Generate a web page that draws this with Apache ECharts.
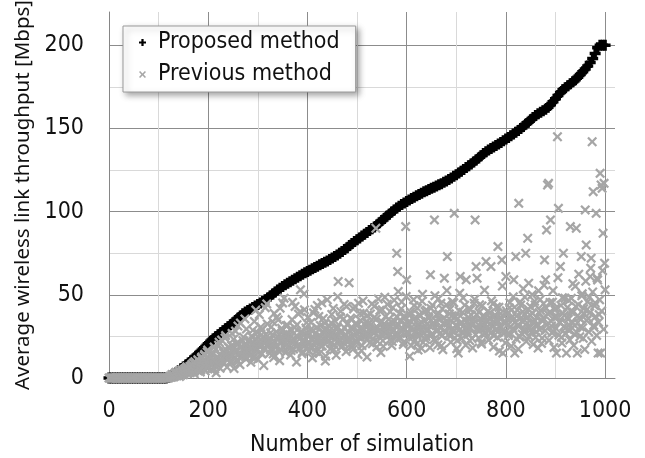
<!DOCTYPE html>
<html>
<head>
<meta charset="utf-8">
<script src="https://cdn.jsdelivr.net/npm/echarts@6/dist/echarts.min.js"></script>
<style>
  html, body { margin: 0; padding: 0; background: #fff; }
  #chart { width: 645px; height: 458px; }
</style>
</head>
<body>
<div id="chart"></div>
<script>
// simulation number = start + step * index
var proposedStart = 0, proposedStep = 5;
var proposedY = [
  0, 0, 0, 0, 0, 0, 0, 0, 0, 0, 0, 0, 0, 0, 0, 0, 0, 0, 0, 0, 0, 0, 0, 0,
  0.3, 1.2, 2.2, 3.3, 4.4, 5.5, 6.6, 7.8, 9, 10.3, 11.6, 13, 14.4, 15.9, 17.4, 19,
  20.6, 22.1, 23.5, 24.8, 26, 27.2, 28.4, 29.6, 30.8, 32, 33.2, 34.5, 35.9, 37.3, 38.6, 39.7,
  40.6, 41.5, 42.4, 43.3, 44.2, 45.1, 46, 47, 48.1, 49.3, 50.5, 51.7, 52.9, 54, 55, 56,
  57, 57.9, 58.8, 59.7, 60.6, 61.5, 62.4, 63.2, 64, 64.8, 65.6, 66.4, 67.2, 68, 68.8, 69.6,
  70.4, 71.2, 72.1, 73, 74, 75, 76.1, 77.2, 78.3, 79.6, 80.8, 82, 83.1, 84.2, 85.3, 86.4,
  87.5, 88.6, 89.7, 90.8, 92, 93.3, 94.6, 95.9, 97.2, 98.5, 99.8, 101, 102.2, 103.3, 104.3, 105.2,
  106.1, 107, 107.9, 108.7, 109.5, 110.3, 111.1, 111.9, 112.6, 113.3, 114, 114.7, 115.4, 116.1, 116.8, 117.6,
  118.4, 119.3, 120.2, 121.2, 122.2, 123.2, 124.3, 125.4, 126.5, 127.6, 128.7, 129.9, 131.1, 132.3, 133.6, 134.9,
  136, 137, 137.9, 138.8, 139.7, 140.6, 141.6, 142.6, 143.6, 144.6, 145.6, 146.6, 147.7, 148.8, 150, 151.2,
  152.5, 153.8, 155.2, 156.6, 157.8, 158.8, 159.7, 160.6, 161.6, 162.8, 164.3, 166, 167.9, 169.8, 171.6, 173.2,
  174.5, 175.7, 176.8, 178, 179.3, 180.8, 182.4, 184.1, 185.8, 187.6, 189.6, 192, 195, 198.5, 200, 200, 200
];

// previous method, even simulation numbers
var previousStart = 0, previousStep = 2;
var previousY = [
  0, 0, 0, 0, 0, 0, 0, 0, 0, 0, 0, 0, 0, 0, 0, 0, 0, 0, 0, 0,
  0, 0, 0, 0, 0, 0, 0, 0, 0, 0, 0, 0, 0, 0, 0, 0, 0, 0, 0, 0,
  0, 0, 0, 0, 0, 0, 0, 0, 0, 0, 0, 0, 0, 0, 0, 0, 0, 0, 0, 0, 0,
  0.4, 0.8, 1.2, 0.6, 1.8, 1.1, 2.6, 1.4, 3.1, 2.2, 0.9, 3.8, 2.7, 4.6, 1.9, 5.2, 3.4, 6.1, 2.8, 4.4,
  5.6, 3.2, 7.4, 4.1, 9.0, 2.5, 6.3, 8.8, 4.7, 10.5, 5.9, 3.6, 11.8, 7.1, 6.0, 13.5, 4.2, 8.2, 15.6, 9.6,
  6.8, 11.2, 4.9, 14.0, 8.3, 18.6, 7.2, 3.1, 12.4, 9.7, 21.5, 5.8, 13.6, 10.1, 16.2, 8.8, 24.0, 11.7, 6.5, 14.8,
  12.3, 17.9, 9.1, 26.8, 13.5, 5.7, 15.4, 20.6, 10.9, 31.2, 14.2, 8.0, 18.3, 12.8, 22.4, 16.1, 35.5, 11.4, 19.8, 14.6,
  15.8, 22.5, 9.4, 18.0, 28.7, 13.1, 20.2, 40.8, 16.7, 11.2, 24.3, 19.1, 30.6, 14.4, 21.8, 7.5, 17.3, 26.0, 44.5, 18.9,
  20.4, 14.9, 27.2, 17.6, 33.8, 12.3, 22.1, 19.0, 36.5, 24.7, 16.2, 10.4, 21.3, 29.9, 45.1, 18.5, 25.6, 15.3, 23.0, 31.7,
  19.2, 26.1, 13.8, 22.7, 45.5, 17.4, 30.3, 21.0, 9.6, 24.9, 38.4, 18.1, 53.0, 27.5, 15.7, 22.2, 41.0, 19.8, 33.2, 25.3,
  20.6, 16.3, 29.0, 23.4, 12.1, 39.2, 21.7, 26.8, 18.4, 43.6, 24.0, 14.8, 31.5, 22.5, 19.3, 35.8, 27.1, 10.2, 23.9, 47.0,
  22.8, 28.4, 17.5, 33.1, 24.6, 41.8, 19.9, 26.2, 13.7, 30.9, 58.0, 23.1, 36.7, 18.6, 27.8, 21.4, 44.2, 25.5, 15.9, 32.3,
  24.4, 57.2, 20.1, 29.7, 35.2, 17.3, 26.0, 42.9, 22.6, 31.4, 14.1, 27.3, 38.8, 23.7, 19.5, 46.3, 28.9, 24.8, 33.6, 12.6,
  25.9, 32.8, 21.2, 28.3, 44.5, 23.5, 36.1, 27.4, 90.0, 18.7, 30.2, 25.0, 40.7, 15.3, 33.9, 22.4, 29.6, 48.6, 26.7, 31.1,
  27.8, 35.4, 22.9, 30.7, 19.6, 42.3, 28.5, 34.0, 25.3, 75.0, 64.0, 31.8, 38.9, 24.1, 45.7, 29.4, 21.6, 36.3, 91.0, 59.0,
  33.2, 27.1, 13.0, 39.6, 30.5, 24.7, 47.1, 35.8, 28.2, 20.4, 42.0, 31.6, 26.3, 37.5, 17.8, 50.3, 29.9, 34.6, 23.2, 40.9,
  28.7, 36.9, 31.4, 62.0, 25.6, 43.8, 33.0, 95.0, 22.1, 38.2, 29.3, 47.6, 35.1, 26.9, 19.4, 41.5, 32.7, 60.0, 27.4, 44.0,
  73.0, 30.8, 38.6, 25.1, 34.4, 45.9, 28.0, 99.0, 36.7, 31.9, 22.6, 15.0, 40.3, 61.0, 33.5, 27.7, 48.2, 35.0, 29.6, 59.0,
  34.1, 26.2, 41.7, 30.4, 37.9, 23.8, 32.6, 45.0, 95.0, 67.0, 60.0, 28.9, 39.4, 35.6, 21.3, 43.3, 31.0, 36.8, 26.5, 70.0,
  33.7, 40.2, 28.6, 36.1, 67.0, 31.3, 44.6, 25.4, 38.0, 34.8, 29.2, 79.0, 42.5, 30.6, 36.4, 71.0, 15.0, 33.9, 27.3, 61.0,
  38.4, 32.1, 26.7, 45.3, 35.7, 41.0, 29.8, 59.0, 15.0, 73.0, 37.2, 31.5, 105.0, 24.6, 43.9, 34.3, 39.8, 28.1, 48.7, 75.0,
  35.9, 84.0, 57.0, 30.2, 42.8, 27.6, 38.9, 33.4, 46.1, 24.3, 36.5, 31.7, 52.4, 29.0, 40.6, 20.8, 34.2, 44.7, 71.0, 59.0,
  89.0, 116.0, 117.0, 39.5, 95.0, 31.2, 45.6, 27.9, 36.8, 41.9, 15.0, 145.0, 102.0, 33.6, 67.0, 24.5, 48.3, 75.0, 37.7, 30.1,
  15.0, 42.4, 35.3, 28.8, 91.0, 47.9, 33.1, 39.7, 26.4, 55.2, 90.0, 15.0, 44.1, 36.2, 30.7, 73.0, 50.6, 23.9, 38.5, 101.0,
  80.0, 41.3, 35.8, 48.6, 61.0, 72.0, 142.0, 112.0, 30.4, 45.2, 99.0, 60.0, 15.0, 38.1, 123.0, 116.0, 114.0, 87.0, 117.0, 53.0
];

// previous method, odd simulation numbers
var previousOddStart = 123, previousOddStep = 2;
var previousOddY = [
  1.0, 0.5, 2.1, 1.6, 0.8, 2.9, 3.5, 1.3, 2.4, 4.2, 3.0, 1.7, 4.9, 3.8, 2.6, 5.5, 4.1, 6.8, 3.3, 5.0,
  6.9, 4.5, 8.1, 5.3, 3.9, 9.8, 7.0, 5.1, 11.0, 6.6, 8.7, 4.8, 12.6, 9.3, 7.6, 14.2, 10.4, 6.2, 16.8, 11.5,
  9.2, 13.1, 7.7, 15.5, 10.6, 5.4, 17.2, 12.0, 8.5, 19.7, 13.9, 10.8, 22.8, 9.9, 15.0, 12.7, 25.5, 16.6, 11.1, 18.3,
  14.0, 10.0, 19.4, 16.9, 23.3, 12.0, 28.2, 17.0, 9.8, 21.1, 15.2, 33.0, 18.8, 13.3, 24.6, 20.0, 12.9, 29.4, 17.7, 22.2,
  18.2, 13.6, 25.1, 20.9, 11.9, 34.0, 23.6, 16.4, 27.3, 19.6, 38.1, 21.2, 15.0, 29.0, 24.8, 17.9, 42.3, 22.0, 32.5, 20.5,
  22.6, 17.1, 30.6, 25.8, 14.4, 38.8, 21.5, 27.7, 19.3, 34.9, 23.8, 42.0, 16.8, 28.6, 24.0, 48.0, 20.8, 31.4, 26.2, 18.6,
  23.3, 29.2, 16.5, 35.1, 21.9, 27.0, 43.0, 18.8, 32.0, 24.4, 20.3, 39.9, 28.1, 14.6, 25.8, 50.5, 22.7, 30.0, 17.2, 36.4,
  26.0, 21.0, 33.4, 18.0, 28.7, 24.2, 41.2, 16.0, 30.4, 22.8, 37.0, 25.7, 19.2, 45.2, 27.9, 23.0, 32.9, 13.1, 29.2, 21.8,
  25.2, 31.0, 20.9, 38.2, 26.7, 17.0, 34.4, 23.4, 29.5, 48.9, 21.7, 27.5, 40.0, 24.1, 19.4, 35.6, 30.1, 26.3, 43.0, 22.3,
  27.1, 22.4, 36.0, 30.6, 18.9, 41.5, 25.4, 32.7, 21.3, 28.4, 45.0, 24.9, 34.6, 16.4, 29.8, 39.0, 26.1, 31.9, 23.0, 37.7,
  29.0, 24.6, 38.5, 32.3, 20.6, 27.6, 43.2, 30.0, 35.5, 22.1, 47.5, 28.8, 33.0, 25.9, 41.0, 19.0, 31.2, 36.9, 27.0, 44.3,
  30.5, 25.8, 39.8, 33.7, 22.0, 29.1, 46.8, 31.3, 27.2, 36.6, 52.0, 24.5, 34.2, 41.6, 28.0, 20.1, 37.3, 32.6, 49.0, 26.8,
  31.0, 24.3, 38.0, 19.5, 28.6, 35.2, 43.5, 22.7, 30.9, 26.0, 16.8, 37.9, 29.7, 33.8, 46.2, 21.4, 27.4, 40.1, 24.9, 32.2,
  29.4, 35.9, 18.3, 41.8, 26.6, 31.7, 23.2, 49.5, 34.3, 28.0, 20.0, 38.6, 30.3, 44.9, 25.3, 17.0, 36.2, 32.8, 27.9, 52.6,
  33.0, 26.3, 41.2, 21.5, 37.4, 29.9, 45.3, 24.0, 31.6, 17.6, 35.7, 28.4, 51.0, 32.3, 23.7, 39.5, 27.2, 43.8, 19.8, 30.7,
  28.2, 36.4, 22.5, 41.1, 31.8, 18.1, 34.7, 47.3, 26.0, 38.2, 30.0, 24.1, 44.0, 33.3, 20.4, 29.5, 37.6, 52.8, 27.5, 35.0,
  31.1, 22.8, 39.0, 27.0, 46.4, 33.6, 18.6, 36.9, 29.0, 42.7, 24.4, 34.1, 16.2, 38.7, 30.5, 55.3, 26.8, 32.9, 21.1, 40.4,
  35.3, 25.5, 42.2, 30.8, 19.2, 37.0, 48.8, 28.3, 33.5, 23.6, 40.8, 17.4, 31.4, 45.7, 36.3, 26.4, 53.7, 29.6, 38.1, 22.0,
  33.1, 41.4, 25.0, 37.8, 29.3, 50.1, 20.2, 35.0, 43.9, 27.8, 32.0, 18.0, 39.3, 47.2, 30.1, 24.0, 36.0, 55.8, 28.5, 42.1,
  31.9, 38.4, 22.6, 45.4, 34.1, 27.1, 52.5, 18.4, 40.9, 29.8, 36.7, 60.3, 25.7, 33.2, 43.6, 21.0, 38.9, 31.0, 48.0, 26.6,
  36.1, 29.1, 46.6, 22.9, 40.0, 33.9, 56.7, 19.6, 31.5, 43.0, 27.3, 37.5, 62.4, 24.8, 35.2, 49.4, 30.2, 41.7, 17.2, 58.2,
  34.5, 45.8, 27.7, 39.2, 66.0, 22.1, 51.7, 31.7, 43.4, 36.9, 25.6, 58.9, 33.5, 47.0, 15.0, 40.2, 64.5, 29.3, 69.0
];

var xTickLabels = ['0', '200', '400', '600', '800', '1000'];
var yTickLabels = ['0', '50', '100', '150', '200'];

var plusPath = 'path://M0,3.4L10,3.4L10,6.6L0,6.6Z M3.4,0L6.6,0L6.6,10L3.4,10Z';
var crossPath = 'path://M0,1.6L1.6,0L5,3.4L8.4,0L10,1.6L6.6,5L10,8.4L8.4,10L5,6.6L1.6,10L0,8.4L3.4,5Z';

function pairs(start, step, ys) {
  return ys.map(function (y, i) { return [start + step * i, y]; });
}

var font = '"DejaVu Sans Condensed", "Noto Sans", sans-serif';
var titleFont = '"Noto Sans", sans-serif';
var ink = '#111';
var gray = '#a6a6a6';
var chart = echarts.init(document.getElementById('chart'), null, { renderer: 'canvas' });
chart.setOption({
  animation: false,
  backgroundColor: '#fff',
  grid: { left: 109, top: 12, width: 506, height: 366, containLabel: false, outerBoundsMode: 'none' },
  legend: {
    left: 123, top: 26,
    orient: 'vertical',
    backgroundColor: '#fff',
    borderColor: '#9a9a9a',
    borderWidth: 1,
    shadowBlur: 6,
    shadowOffsetX: 3,
    shadowOffsetY: 3,
    shadowColor: 'rgba(0,0,0,0.35)',
    padding: [3, 16, 4, 16],
    itemGap: 5,
    itemWidth: 7,
    itemHeight: 7,
    textStyle: { fontFamily: font, fontSize: 23, color: ink, lineHeight: 27, padding: [0, 0, 0, 7] },
    data: [
      { name: 'Proposed method', icon: plusPath, itemStyle: { color: '#000' } },
      { name: 'Previous method', icon: crossPath, itemStyle: { color: gray } }
    ]
  },
  xAxis: {
    type: 'value', min: 0, max: 1020, interval: 100,
    name: 'Number of simulation', nameLocation: 'middle', nameGap: 56,
    nameTextStyle: { fontFamily: font, fontSize: 23, color: ink },
    axisLine: { show: true, lineStyle: { color: '#868686', width: 1 } },
    axisTick: { show: false },
    axisLabel: {
      fontFamily: font, fontSize: 23, color: ink, margin: 22, showMaxLabel: false,
      formatter: function (v) { return xTickLabels.indexOf(String(v)) >= 0 ? String(v) : ''; }
    },
    splitLine: { show: true, showMaxLine: false, lineStyle: { color: ['#8c8c8c', '#d9d9d9'], width: 1 } }
  },
  yAxis: {
    type: 'value', min: 0, max: 220, interval: 25,
    name: 'Average wireless link throughput [Mbps]', nameLocation: 'middle', nameGap: 70,
    nameTextStyle: { fontFamily: titleFont, fontSize: 20.5, color: ink },
    axisLine: { show: true, lineStyle: { color: '#868686', width: 1 } },
    axisTick: { show: false },
    axisLabel: {
      fontFamily: font, fontSize: 23, color: ink, margin: 25, showMaxLabel: false,
      formatter: function (v) { return yTickLabels.indexOf(String(v)) >= 0 ? String(v) : ''; }
    },
    splitLine: { show: true, showMaxLine: false, lineStyle: { color: ['#8c8c8c', '#d9d9d9'], width: 1 } }
  },
  series: [
    {
      name: 'Proposed method', type: 'scatter',
      symbol: plusPath, symbolSize: 11,
      itemStyle: { color: '#000', opacity: 1 },
      data: pairs(proposedStart, proposedStep, proposedY)
    },
    {
      name: 'Previous method', type: 'scatter',
      symbol: crossPath, symbolSize: 10,
      itemStyle: { color: gray, opacity: 1 },
      data: pairs(previousStart, previousStep, previousY)
    },
    {
      name: 'Previous method', type: 'scatter',
      symbol: crossPath, symbolSize: 10,
      itemStyle: { color: gray, opacity: 1 },
      data: pairs(previousOddStart, previousOddStep, previousOddY)
    }
  ]
});
</script>
</body>
</html>
